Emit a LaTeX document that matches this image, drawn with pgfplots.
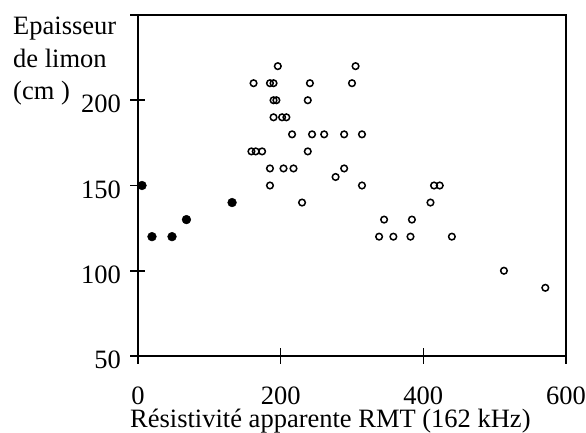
\documentclass[border=0pt]{standalone}
\usepackage{pgfplots}
\pgfplotsset{compat=1.18}
\usepackage{fontspec}
\setmainfont{Liberation Serif}
\begin{document}
\begin{tikzpicture}
\path[use as bounding box] (-138pt,-77pt) rectangle (448pt,356pt);
\begin{axis}[
  name=ax,
  at={(0,0)}, anchor=south west,
  scale only axis, width=428pt, height=341pt,
  xmin=0, xmax=600, ymin=50, ymax=250,
  axis lines*=left,
  axis line style={line width=2.4pt, black},
  xtick={0,200,400,600},
  ytick={50,100,150,200,250},
  yticklabels={50,100,150,200,{}},
  tick align=center,
  major tick length=15pt,
  tick style={line width=1.6pt, black},
  /pgf/number format/assume math mode=true,
  xticklabel style={font=\fontsize{26.5}{31}\selectfont, yshift=-20pt},
  yticklabel style={font=\fontsize{26.5}{31}\selectfont, xshift=-6pt, yshift=-4pt},
]
\addplot[only marks, mark=*, mark size=4.4pt, black] coordinates {
(5.6,150) (19.6,120) (47.7,120) (67.9,130) (131.9,140)
};
\addplot[only marks, mark=o, mark size=3.3pt, black, mark options={line width=1.5pt}] coordinates {
(196,220) (305,220)
(162,210) (185,210) (190,210) (241,210) (300,210)
(190,200) (194,200) (238,200)
(190,190) (202,190) (208,190)
(216,180) (244,180) (261,180) (289,180) (314,180)
(159,170) (165,170) (174,170) (238,170)
(185,160) (204,160) (218,160) (289,160)
(277,155)
(185,150) (314,150) (415,150) (423,150)
(230,140) (410,140)
(345,130) (384,130)
(338,120) (358,120) (382,120) (440,120)
(513,100) (571,90)
};
\end{axis}
\draw[line width=1.6pt, black] (ax.north west) -- (ax.north east) -- (ax.south east);
\node[anchor=north west, align=left, inner sep=0pt, font=\fontsize{26.5}{32.5}\selectfont] at (-125pt,339pt) {Epaisseur\\de limon\\(cm )};
\node[anchor=base west, inner sep=0pt, font=\fontsize{26.5}{31}\selectfont] at (-8pt,-72pt) {Résistivité apparente RMT (162 kHz)};
\end{tikzpicture}
\end{document}
